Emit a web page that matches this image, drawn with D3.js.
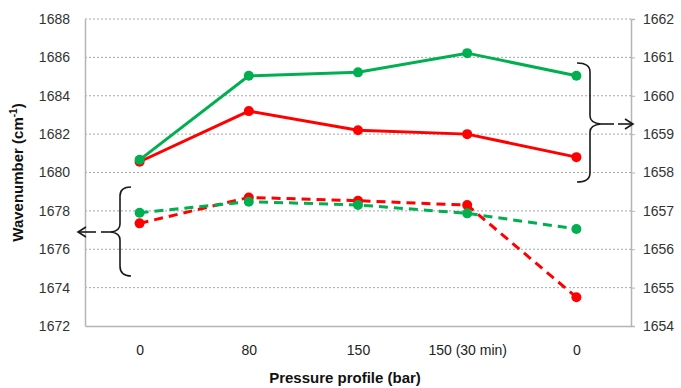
<!DOCTYPE html>
<html>
<head>
<meta charset="utf-8">
<script src="https://cdn.jsdelivr.net/npm/d3@7"></script>
<style>
  html, body { margin: 0; padding: 0; background: #fff; }
  svg { display: block; font-family: "Liberation Sans", Arial, sans-serif; }
</style>
</head>
<body>
<svg id="chart" width="681" height="388"></svg>
<script>
// ---- data ----
const categories = ["0", "80", "150", "150 (30 min)", "0"];
const leftTicks = [1672, 1674, 1676, 1678, 1680, 1682, 1684, 1686, 1688];
const rightTicks = [1654, 1655, 1656, 1657, 1658, 1659, 1660, 1661, 1662];
// solid lines -> right axis
const solidRed   = [1658.28, 1659.60, 1659.10, 1659.00, 1658.40];
const solidGreen = [1658.33, 1660.52, 1660.61, 1661.11, 1660.52];
// dashed lines -> left axis
const dashedRed   = [1677.35, 1678.70, 1678.53, 1678.30, 1673.50];
const dashedGreen = [1677.90, 1678.48, 1678.31, 1677.87, 1677.06];

const RED = "#ff0000", GREEN = "#00b050";
const svg = d3.select("#chart");
const x0 = 85, x1 = 631, yTop = 19, yBot = 326;

const x = d3.scalePoint().domain(d3.range(categories.length)).range([x0, x1]).padding(0.5);
const yL = d3.scaleLinear().domain([1672, 1688]).range([yBot, yTop]);
const yR = d3.scaleLinear().domain([1654, 1662]).range([yBot, yTop]);

// gridlines
svg.append("g").selectAll("line")
  .data(leftTicks.filter(t => t > 1672))
  .join("line")
  .attr("x1", x0).attr("x2", x1)
  .attr("y1", d => yL(d)).attr("y2", d => yL(d))
  .attr("stroke", "#a6a6a6").attr("stroke-width", 1)
  .attr("stroke-dasharray", "2,2");

// left axis
const gL = svg.append("g").attr("transform", `translate(${x0},0)`)
  .call(d3.axisLeft(yL).tickValues(leftTicks).tickSize(0).tickPadding(15).tickFormat(d3.format("d")));
gL.select(".domain").attr("stroke", "#b5b5b5").attr("stroke-width", 1.5);
gL.selectAll("text").attr("font-size", 14).attr("fill", "#333");

// right axis
const gR = svg.append("g").attr("transform", `translate(${x1},0)`)
  .call(d3.axisRight(yR).tickValues(rightTicks).tickSize(4).tickPadding(8).tickFormat(d3.format("d")));
gR.select(".domain").attr("stroke", "#b5b5b5").attr("stroke-width", 1.5);
gR.selectAll(".tick line").attr("stroke", "#b5b5b5");
gR.selectAll("text").attr("font-size", 14).attr("fill", "#333");

// bottom axis
const gB = svg.append("g").attr("transform", `translate(0,${yBot})`)
  .call(d3.axisBottom(x).tickSize(0).tickPadding(19).tickFormat(i => categories[i]));
gB.select(".domain").attr("stroke", "#b5b5b5").attr("stroke-width", 1.5);
gB.selectAll("text").attr("font-size", 14).attr("fill", "#222");

// axis titles
svg.append("text")
  .attr("x", (x0 + x1) / 2 - 13).attr("y", 383)
  .attr("text-anchor", "middle").attr("font-size", 15).attr("font-weight", "bold").attr("fill", "#111")
  .text("Pressure profile (bar)");

const yt = svg.append("text")
  .attr("transform", `translate(23,${(yTop + yBot) / 2}) rotate(-90)`)
  .attr("text-anchor", "middle").attr("font-size", 15).attr("font-weight", "bold").attr("fill", "#111");
yt.append("tspan").text("Wavenumber (cm");
yt.append("tspan").attr("font-size", 10).attr("dy", -6).text("-1");
yt.append("tspan").attr("dy", 6).text(")");

// series
function drawSeries(vals, yS, color, dashed) {
  const line = d3.line().x((d, i) => x(i)).y(d => yS(d));
  svg.append("path").datum(vals)
    .attr("d", line).attr("fill", "none")
    .attr("stroke", color).attr("stroke-width", 3)
    .attr("stroke-dasharray", dashed ? "9,6" : null);
  svg.append("g").selectAll("circle").data(vals).join("circle")
    .attr("cx", (d, i) => x(i)).attr("cy", d => yS(d)).attr("r", 5)
    .attr("fill", color);
}
drawSeries(solidRed, yR, RED, false);
drawSeries(solidGreen, yR, GREEN, false);
drawSeries(dashedRed, yL, RED, true);
drawSeries(dashedGreen, yL, GREEN, true);

// braces and arrows (annotations)
const ann = svg.append("g").attr("fill", "none").attr("stroke", "#1a1a1a").attr("stroke-width", 1.6);
// left brace "{"
ann.append("path").attr("d",
  "M131,187 Q120,187 120,196 L120,224 Q120,231 111,232 Q120,233 120,240 L120,266 Q120,276 131,276");
ann.append("line").attr("x1", 101).attr("x2", 112).attr("y1", 232).attr("y2", 232);
ann.append("line").attr("x1", 78).attr("x2", 96).attr("y1", 232).attr("y2", 232);
ann.append("path").attr("d", "M86,227 L78,232 L86,237");
// right brace "}"
ann.append("path").attr("d",
  "M577,63 Q590,63 590,72 L590,116 Q590,123 601,124 Q590,125 590,132 L590,173 Q590,182 577,182");
ann.append("line").attr("x1", 601).attr("x2", 614).attr("y1", 124).attr("y2", 124);
ann.append("line").attr("x1", 618).attr("x2", 633).attr("y1", 124).attr("y2", 124);
ann.append("path").attr("d", "M625,119 L633,124 L625,129");
</script>
</body>
</html>
